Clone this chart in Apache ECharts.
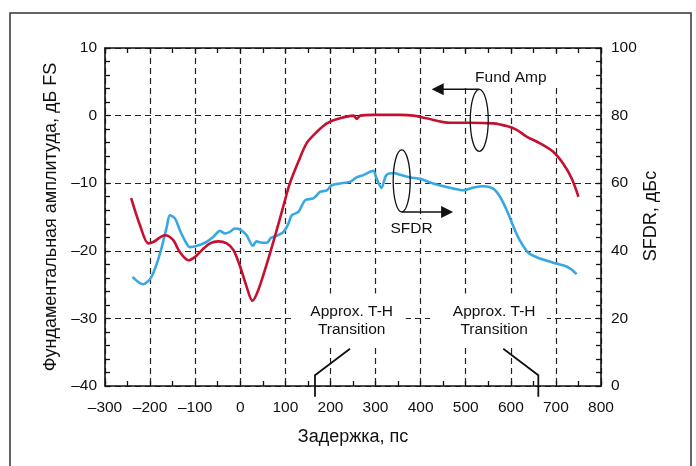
<!DOCTYPE html>
<html><head><meta charset="utf-8">
<script src="https://cdn.jsdelivr.net/npm/echarts@6/dist/echarts.min.js"></script>
<style>html,body{margin:0;padding:0;background:#fff}#c{width:696px;height:466px}</style>
</head><body><div id="c"></div>
<script>
// ---- data ----
const fundX = [-242,-222,-204,-193,-167,-149,-134,-115,-100,-82,-67,-49,-30,-15,0,14,27,40,59,81,100,110,129,147,170,192,221,251,258,266,295,354,384,413,465,502,561,591,613,635,665,694,716,735,750];
const fundY = [-12.2,-16.3,-18.9,-18.7,-17.7,-18.4,-20.2,-21.4,-20.9,-19.7,-18.9,-18.6,-18.9,-19.9,-22.4,-25.3,-27.4,-25.8,-21.9,-16.9,-12.3,-10,-6.8,-4.1,-2.4,-1.15,-0.4,0.0,-0.5,0.0,0.1,0.1,0.0,-0.4,-1.06,-1.06,-1.15,-1.55,-2.1,-3.1,-4.1,-5.35,-7.1,-9.3,-12.0];
const sfdrX = [-239,-216,-197,-178,-163,-156,-145,-134,-123,-112,-97,-75,-60,-45,-34,-23,-12,0,14,28,36,48,59,68,82,96,107,114,129,144,162,177,192,203,221,243,258,273,288,295,302,313,324,340,354,377,399,428,451,473,495,517,539,561,576,591,606,620,639,665,694,716,731,746];
const sfdrY = [32.3,30.1,32.3,39.2,47.1,50.5,49.6,46.1,43.1,41.1,41.4,42.6,44.1,45.9,45.1,45.6,46.6,46.3,44.6,41.5,42.8,42.4,42.4,43.8,44.5,45.6,48.1,50.5,51.5,55,55.5,57.4,57.9,59.4,59.9,60.4,61.7,62.4,63.4,63.7,61.5,58.6,62.4,63.0,62.5,61.7,61.3,59.9,59.1,58.4,57.9,58.7,59.1,58.4,56,52,47.1,43.1,39.4,37.7,36.5,35.7,34.8,33.1];
const xMin = -300, xMax = 800, xStep = 100;
const yLMin = -40, yLMax = 10, yLStep = 10;
const yRMin = 0, yRMax = 100, yRStep = 20;
const xTitle = 'Задержка, пс';
const yLTitle = 'Фундаментальная амплитуда, дБ FS';
const yRTitle = 'SFDR, дБс';
const fundLabel = 'Fund Amp';
const sfdrLabel = 'SFDR';
const thLabel = 'Approx. T-H\nTransition';

const FONT = "'Liberation Sans', Arial, sans-serif";
const RED = '#c5102f', BLUE = '#38a8e2', INK = '#111';
const dash = (v) => String(v).replace('-', '\u2013');

const chart = echarts.init(document.getElementById('c'), null, {renderer: 'canvas'});
const axisCommon = {
  type: 'value',
  axisLine: {show: true, onZero: false, lineStyle: {color: INK, width: 1.6}},
  axisTick: {show: true, inside: true, length: 5, lineStyle: {color: INK, width: 1.3}},
  minorTick: {show: true, length: 5, lineStyle: {color: INK, width: 1.3}},
};
const gridLine = {show: true, lineStyle: {color: '#222', width: 1.2, type: [6, 4]}};

chart.setOption({
  animation: false,
  backgroundColor: '#fff',
  grid: {left: 105, right: 95, top: 48, bottom: 80},
  xAxis: [
    Object.assign({}, axisCommon, {position: 'bottom', min: xMin, max: xMax, interval: xStep,
      minorTick: Object.assign({}, axisCommon.minorTick, {splitNumber: 2}),
      axisLabel: {margin: 14, color: INK, fontSize: 15.5, fontFamily: FONT, formatter: dash},
      splitLine: gridLine}),
    Object.assign({}, axisCommon, {position: 'top', min: xMin, max: xMax, interval: xStep,
      minorTick: Object.assign({}, axisCommon.minorTick, {splitNumber: 2}),
      axisLabel: {show: false}, splitLine: {show: false}})
  ],
  yAxis: [
    Object.assign({}, axisCommon, {position: 'left', min: yLMin, max: yLMax, interval: yLStep,
      minorTick: Object.assign({}, axisCommon.minorTick, {splitNumber: 5}),
      axisLabel: {margin: 8, color: INK, fontSize: 15.5, fontFamily: FONT, formatter: dash},
      splitLine: gridLine}),
    Object.assign({}, axisCommon, {position: 'right', min: yRMin, max: yRMax, interval: yRStep,
      minorTick: Object.assign({}, axisCommon.minorTick, {splitNumber: 5}),
      axisLabel: {margin: 10, color: INK, fontSize: 15.5, fontFamily: FONT},
      splitLine: {show: false}})
  ],
  series: [
    {name: 'Fund Amp', type: 'line', xAxisIndex: 0, yAxisIndex: 0, smooth: 0.3, symbol: 'none',
      lineStyle: {color: RED, width: 2.6}, z: 5,
      data: fundX.map((x, i) => [x, fundY[i]])},
    {name: 'SFDR', type: 'line', xAxisIndex: 0, yAxisIndex: 1, smooth: 0.3, symbol: 'none',
      lineStyle: {color: BLUE, width: 2.6}, z: 4,
      data: sfdrX.map((x, i) => [x, sfdrY[i]])}
  ]
});

// ---- annotations positioned in data space (x in ps, y on left axis) ----
const P = (x, y) => chart.convertToPixel({xAxisIndex: 0, yAxisIndex: 0}, [x, y]);
const g = [];
const txt = (x, y, t, size, extra) => Object.assign({type: 'text', x, y, z: 20,
  style: {text: t, font: size + 'px ' + FONT, fill: INK, align: 'center', verticalAlign: 'middle'}}, extra || {});
const rect = (a, b) => ({type: 'rect', z: 1, shape: {x: a[0], y: a[1], width: b[0] - a[0], height: b[1] - a[1]}, style: {fill: '#fff'}});
const poly = (pts, w) => ({type: 'polyline', z: 20, shape: {points: pts}, style: {stroke: INK, lineWidth: w, fill: null}});
const arrowHead = (tip, dir) => { // dir: -1 left, +1 right
  return {type: 'polygon', z: 20, shape: {points: [tip, [tip[0] - dir * 12, tip[1] - 6], [tip[0] - dir * 12, tip[1] + 6]]}, style: {fill: INK}};
};

// outer frame
g.push({type: 'rect', z: 0, shape: {x: 10, y: 13, width: 681, height: 470}, style: {fill: null, stroke: '#333', lineWidth: 1.5}});

// white masks behind labels
g.push(rect(P(443, 9.1), P(720, 4.1)));
g.push(rect(P(115, -26.3), P(367, -34.1)));
g.push(rect(P(421, -26.3), P(680, -34.1)));

// Fund Amp annotation
const fe = P(530, -0.7);
g.push({type: 'ellipse', z: 20, shape: {cx: fe[0], cy: fe[1], rx: 9, ry: 31}, style: {fill: null, stroke: INK, lineWidth: 1.3}});
const fTop = [fe[0], fe[1] - 31], fTip = P(424.5, 3.83);
g.push(poly([fTop, [fTip[0] + 11, fTop[1]]], 1.5));
g.push(arrowHead([fTip[0], fTop[1]], -1));
const ft = P(600, 5.6); g.push(txt(ft[0], ft[1], fundLabel, 15.5));

// SFDR annotation
const se = P(358, -9.66);
g.push({type: 'ellipse', z: 20, shape: {cx: se[0], cy: se[1], rx: 8.5, ry: 31}, style: {fill: null, stroke: INK, lineWidth: 1.3}});
const sBot = [se[0], se[1] + 31], sTip = P(472, -14.2);
g.push(poly([sBot, [sTip[0] - 11, sBot[1]]], 1.5));
g.push(arrowHead([sTip[0], sBot[1]], 1));
const st = P(380, -16.8); g.push(txt(st[0], st[1], sfdrLabel, 15.5, {style: {text: sfdrLabel, font: '15.5px ' + FONT, fill: INK, align: 'center', verticalAlign: 'middle', backgroundColor: '#fff', padding: [2, 2]}}));

// T-H transition labels
const l1 = P(247, -30.4), l2 = P(563, -30.4);
g.push(txt(l1[0], l1[1], thLabel, 15.5, {style: {text: thLabel, font: '15.5px ' + FONT, fill: INK, align: 'center', verticalAlign: 'middle', lineHeight: 18}}));
g.push(txt(l2[0], l2[1], thLabel, 15.5, {style: {text: thLabel, font: '15.5px ' + FONT, fill: INK, align: 'center', verticalAlign: 'middle', lineHeight: 18}}));
g.push(poly([P(165.7, -41.6), P(165.7, -38.4), P(243.3, -34.5)], 1.8));
g.push(poly([P(583.3, -34.5), P(661, -38.4), P(661, -41.6)], 1.8));

// axis titles
g.push(txt(353, 437, xTitle, 18));
g.push(txt(51, 217, yLTitle, 18, {rotation: Math.PI / 2}));
g.push(txt(651, 216, yRTitle, 18, {rotation: Math.PI / 2}));

chart.setOption({graphic: g});
</script>
</body></html>
